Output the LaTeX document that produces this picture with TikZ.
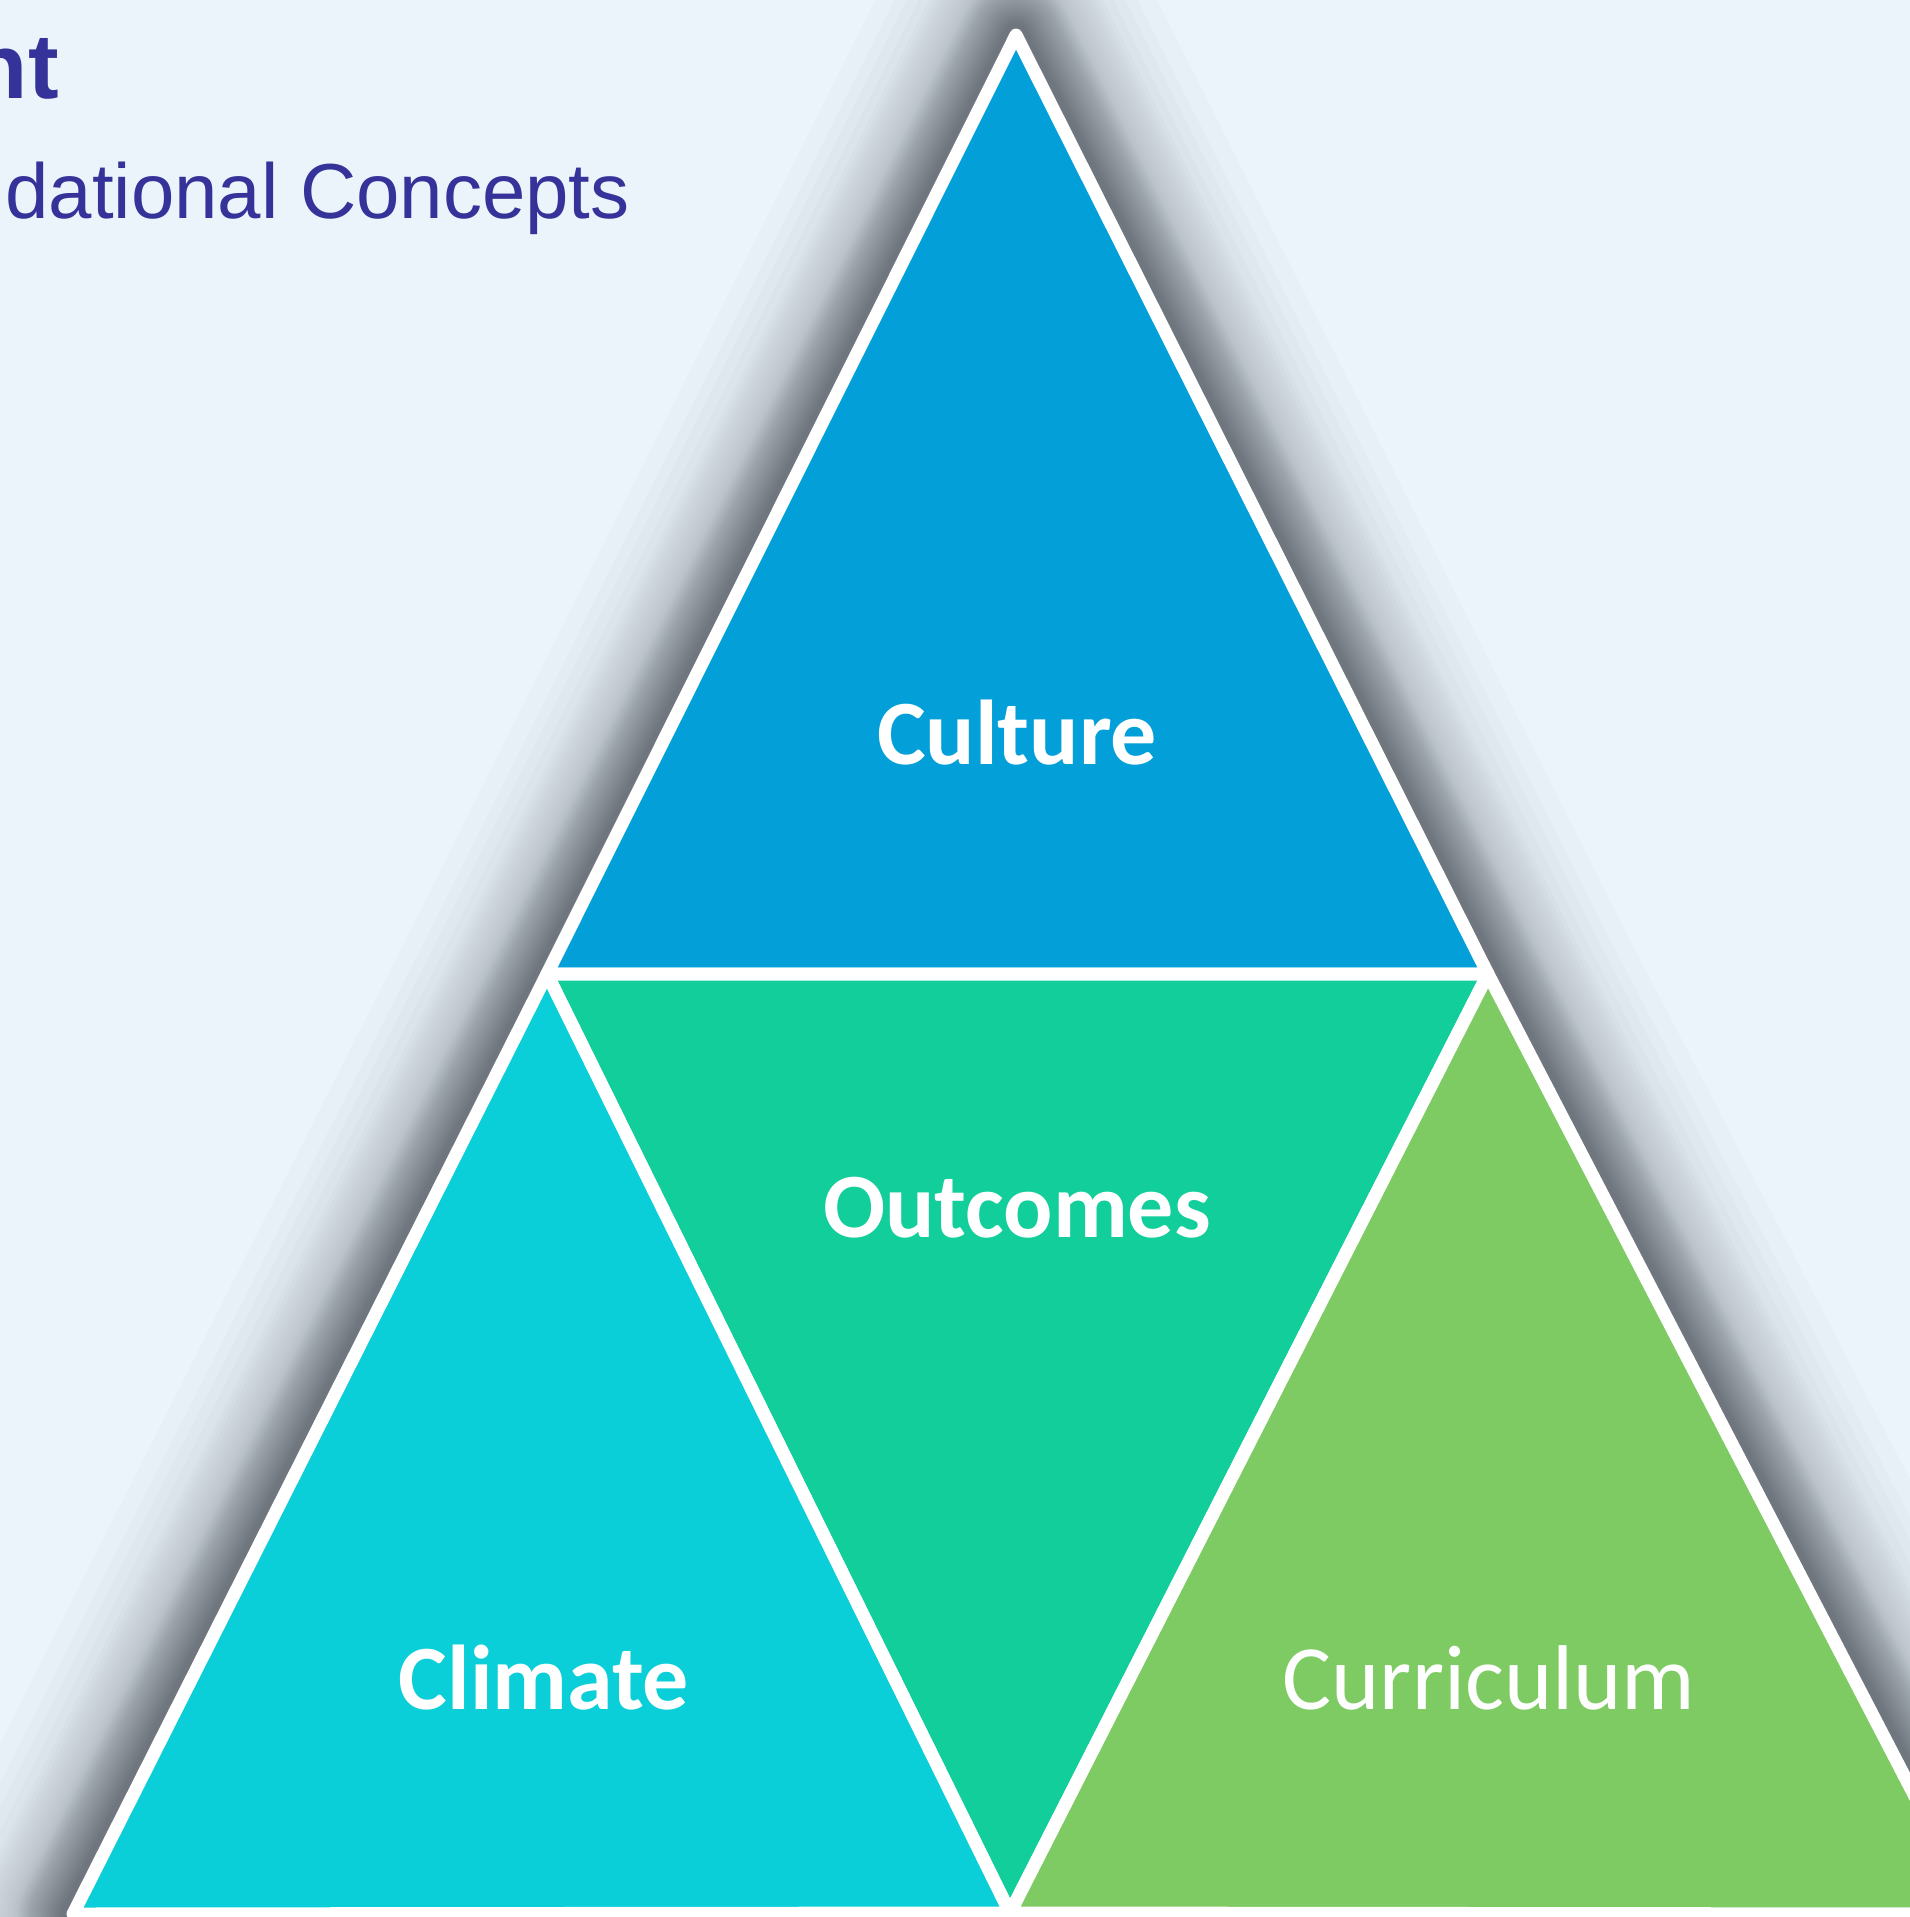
\documentclass[tikz,border=0pt]{standalone}
\usepackage{fontspec}
\newfontfamily\labelfont{Carlito}
\newfontfamily\headfont{Liberation Sans}
\begin{document}
\definecolor{bgblue}{RGB}{236,244,251}
\definecolor{headblue}{RGB}{53,51,153}
\definecolor{culturecol}{RGB}{3,159,216}
\definecolor{outcomecol}{RGB}{18,206,154}
\definecolor{climatecol}{RGB}{11,207,216}
\definecolor{curriccol}{RGB}{125,203,98}
\definecolor{shadowcol}{RGB}{55,62,72}
\begin{tikzpicture}[x=1pt,y=-1pt,
  piece/.style={draw=white,line width=13pt,line join=round},
  shadowline/.style={draw=shadowcol,line join=round,draw opacity=0.02},
  boldlabel/.style={text=white,font=\labelfont\bfseries\fontsize{92}{110}\selectfont,anchor=base,inner sep=0pt},
  plainlabel/.style={text=white,font=\labelfont\fontsize{92}{110}\selectfont,anchor=base,inner sep=0pt}]
\useasboundingbox (0,0) rectangle (1910,1917);
\clip (0,0) rectangle (1910,1917);
\fill[bgblue] (0,0) rectangle (1910,1917);

% vertices of the subdivided triangle
\coordinate (A)  at (1016,35);
\coordinate (ML) at (547,974);
\coordinate (MR) at (1488,974);
\coordinate (BL) at (73,1914);
\coordinate (BM) at (1010,1913);
\coordinate (BR) at (1976,1914);

% heading
\node[font=\headfont\bfseries\fontsize{92}{110}\selectfont,text=headblue,anchor=base east,inner sep=0pt] (title) at (59,98) {nt};
\node[font=\headfont\fontsize{78}{94}\selectfont,text=headblue,anchor=base east,inner sep=0pt] (subtitle) at (630,218) {dational Concepts};

% soft drop shadow: stacked translucent strokes of growing half-width
\begin{scope}[shift={(14,3)}]
  \foreach \h in {5,9,10,11,12,13,14,15,16,17,18,19,20,21,22,23,24,25,
                  26,27,28,29,30,31,32,33,34,35,36,37,38,39,40,41,43,45,
                  48,51,54,57,60,63,66,69,76,84,92,105}
    \draw[shadowline,line width=2.7*\h pt] (A) -- (MR) -- (BR) -- (BL) -- (ML) -- cycle;
\end{scope}

% the four triangles
\filldraw[piece,fill=culturecol] (A) -- (MR) -- (ML) -- cycle;
\filldraw[piece,fill=outcomecol] (ML) -- (MR) -- (BM) -- cycle;
\filldraw[piece,fill=climatecol] (ML) -- (BM) -- (BL) -- cycle;
\filldraw[piece,fill=curriccol] (MR) -- (BR) -- (BM) -- cycle;

% labels
\node[boldlabel] (culture) at (1017,764) {Culture};
\node[boldlabel] (outcomes) at (1017,1237) {Outcomes};
\node[boldlabel] (climate) at (544,1709) {Climate};
\node[plainlabel] (curriculum) at (1489,1709) {Curriculum};
\end{tikzpicture}
\end{document}
